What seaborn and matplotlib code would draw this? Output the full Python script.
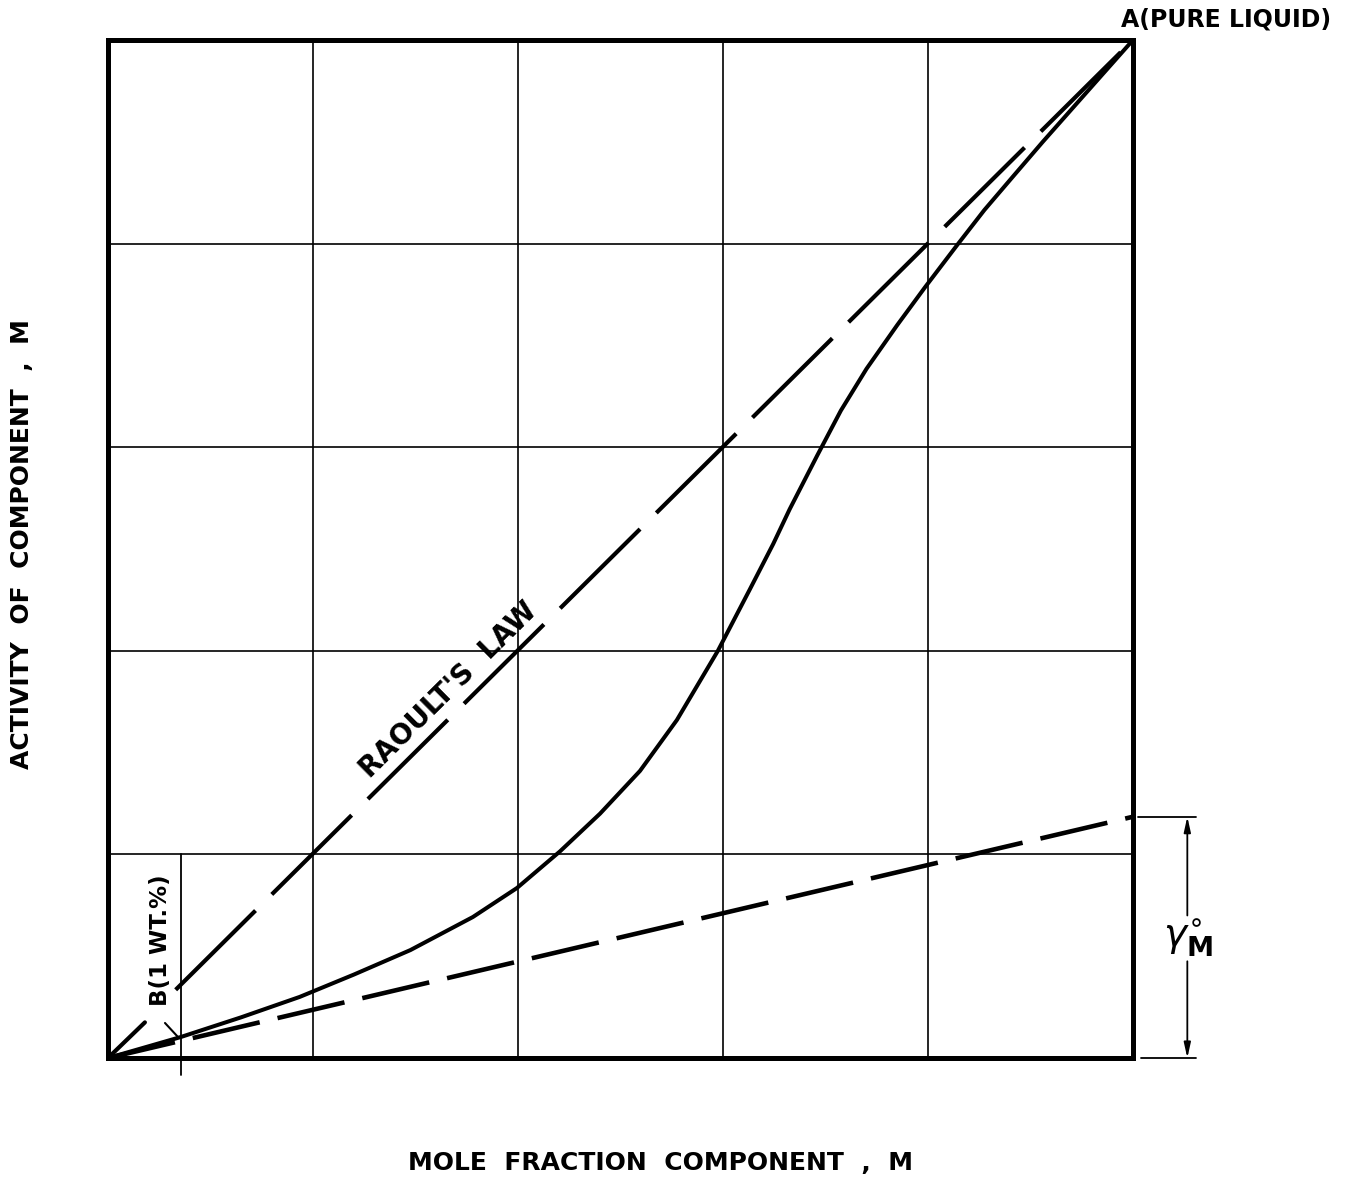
import numpy as np
import pandas as pd
import matplotlib
matplotlib.use("Agg")
import matplotlib.pyplot as plt
import seaborn as sns

# ---- data ----
curve_x = [0.0, 0.071, 0.13, 0.187, 0.24, 0.295, 0.356, 0.399, 0.441, 0.480, 0.519, 0.555,
           0.595, 0.626, 0.649, 0.665, 0.692, 0.715, 0.740, 0.770, 0.797, 0.828, 0.855,
           0.883, 0.912, 0.941, 0.970, 1.0]
curve_y = [0.0, 0.0206, 0.040, 0.060, 0.082, 0.106, 0.1385, 0.167, 0.203, 0.240, 0.282, 0.332,
           0.400, 0.460, 0.505, 0.539, 0.592, 0.636, 0.677, 0.720, 0.757, 0.798, 0.833,
           0.866, 0.900, 0.933, 0.966, 1.0]

raoult_lead_x = [0.0, 0.036]          # short solid piece from origin
raoult_lead_y = [0.0, 0.035]
raoult_x = [0.066, 1.0]               # dashed Raoult's-law line
raoult_y = [0.067, 1.0]

gamma0 = 0.237                        # Henry's-law slope (activity coeff. at infinite dilution)
henry_x = [0.0, 1.0]
henry_y = [0.0, gamma0]

b_x = 0.071                           # point B (1 wt.%)
grid_ticks = [0.2, 0.4, 0.6, 0.8]

# ---- figure ----
sns.set_style("white")
plt.rcParams['font.family'] = ['DejaVu Sans']
plt.rcParams['text.color'] = 'black'

fig = plt.figure(figsize=(13.62, 11.84), dpi=100)
ax = fig.add_axes([108/1362, 1 - 1058/1184, 1025/1362, 1018/1184])
ax.set_xlim(0, 1)
ax.set_ylim(0, 1)

ax.set_xticks(grid_ticks)
ax.set_yticks(grid_ticks)
ax.tick_params(length=0, labelbottom=False, labelleft=False)
ax.grid(True, color='black', linewidth=1.2)
ax.set_axisbelow(True)
for s in ax.spines.values():
    s.set_linewidth(3.6)
    s.set_color('black')
    s.set_zorder(5)

# activity curve
sns.lineplot(x=curve_x, y=curve_y, ax=ax, color='black', linewidth=2.9,
             sort=False, estimator=None, zorder=3, solid_joinstyle='round')
# Raoult's law
sns.lineplot(x=raoult_lead_x, y=raoult_lead_y, ax=ax, color='black', linewidth=3.0,
             estimator=None, zorder=3)
sns.lineplot(x=raoult_x, y=raoult_y, ax=ax, color='black', linewidth=3.0,
             estimator=None, zorder=3, linestyle=(0, (27, 5.5)))
# Henry's law
sns.lineplot(x=henry_x, y=henry_y, ax=ax, color='black', linewidth=3.3,
             estimator=None, zorder=3, linestyle=(0, (15, 4)))

# vertical line at B
ax.plot([b_x, b_x], [-0.017, 0.2], color='black', linewidth=1.3, clip_on=False, zorder=2)
# leader to B
ax.plot([0.0556, 0.0683], [0.0344, 0.0206], color='black', linewidth=1.5, zorder=3)

# labels inside
ax.text(0.332, 0.362, "RAOULT'S  LAW", rotation=44.7, ha='center', va='center',
        fontsize=20, fontweight='bold', rotation_mode='anchor', color='black')
ax.text(0.051, 0.116, "B(1 WT.%)", rotation=90, ha='center', va='center',
        fontsize=16.5, fontweight='bold', color='black')
ax.text(0.988, 1.008, "A(PURE LIQUID)", ha='left', va='bottom',
        fontsize=17, fontweight='bold', clip_on=False, color='black')

# gamma dimension
ax.plot([1.005, 1.061], [gamma0, gamma0], color='black', linewidth=1.3, clip_on=False)
ax.plot([1.008, 1.061], [0, 0], color='black', linewidth=1.3, clip_on=False)
ax.annotate('', xy=(1.053, gamma0), xytext=(1.053, 0.140), xycoords='data',
            arrowprops=dict(arrowstyle='-|>,head_length=0.9,head_width=0.2', color='black',
                            lw=1.3, shrinkA=0, shrinkB=0), annotation_clip=False)
ax.annotate('', xy=(1.053, 0.0), xytext=(1.053, 0.095), xycoords='data',
            arrowprops=dict(arrowstyle='-|>,head_length=0.9,head_width=0.2', color='black',
                            lw=1.3, shrinkA=0, shrinkB=0), annotation_clip=False)
ax.text(1.053, 0.118, r'$\gamma^{\circ}_{\mathbf{M}}$', ha='center', va='center',
        fontsize=28, clip_on=False, color='black')

# axis titles
fig.text(0.4846, 0.0177, "MOLE  FRACTION  COMPONENT  ,  M", ha='center', va='center',
         fontsize=18, fontweight='bold', color='black')
fig.text(0.016, 0.5405, "ACTIVITY  OF  COMPONENT  ,  M", ha='center', va='center',
         rotation=90, fontsize=18, fontweight='bold', color='black')

ax.set_xlabel('')
ax.set_ylabel('')
fig.savefig('out.png', dpi=100, facecolor='white')
